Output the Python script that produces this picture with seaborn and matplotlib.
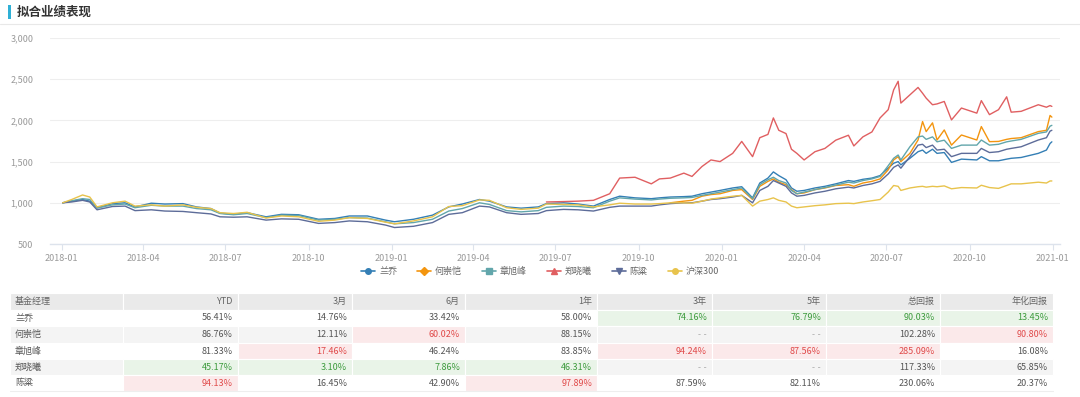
import pandas as pd
import numpy as np
import matplotlib
matplotlib.use("Agg")
import matplotlib.pyplot as plt
import matplotlib.dates as mdates
from matplotlib.lines import Line2D
from matplotlib.patches import Rectangle
import seaborn as sns

# ---- data ----
dates = [
    "2018-01-02", "2018-01-12", "2018-01-24", "2018-02-01", "2018-02-09", "2018-02-26",
    "2018-03-12", "2018-03-23", "2018-04-10", "2018-04-25", "2018-05-15", "2018-05-30",
    "2018-06-15", "2018-06-25", "2018-07-10", "2018-07-25", "2018-08-15", "2018-09-01",
    "2018-09-20", "2018-10-12", "2018-10-30", "2018-11-15", "2018-12-05", "2018-12-25",
    "2019-01-04", "2019-01-25", "2019-02-15", "2019-03-05", "2019-03-20", "2019-04-08",
    "2019-04-19", "2019-05-08", "2019-05-24", "2019-06-12", "2019-06-21", "2019-07-10",
    "2019-07-26", "2019-08-12", "2019-08-30", "2019-09-10", "2019-09-27", "2019-10-15",
    "2019-10-24", "2019-11-05", "2019-11-20", "2019-11-29", "2019-12-10", "2019-12-20",
    "2019-12-30", "2020-01-13", "2020-01-23", "2020-02-04", "2020-02-12", "2020-02-21",
    "2020-02-27", "2020-03-04", "2020-03-12", "2020-03-18", "2020-03-24", "2020-04-01",
    "2020-04-13", "2020-04-24", "2020-05-06", "2020-05-20", "2020-05-26", "2020-06-05",
    "2020-06-15", "2020-06-24", "2020-07-03", "2020-07-09", "2020-07-14", "2020-07-17",
    "2020-07-27", "2020-08-05", "2020-08-10", "2020-08-14", "2020-08-21", "2020-08-26",
    "2020-09-03", "2020-09-11", "2020-09-22", "2020-10-09", "2020-10-14", "2020-10-23",
    "2020-11-02", "2020-11-11", "2020-11-16", "2020-11-27", "2020-12-16", "2020-12-25",
    "2020-12-29", "2020-12-31",
]
nan = np.nan
lan_qiao = [
    1000, 1020, 1040, 1020, 940, 990, 1000, 950, 995, 985, 990, 950,
    930, 875, 860, 880, 830, 860, 855, 800, 810, 840, 840, 790,
    770, 800, 850, 950, 985, 1040, 1020, 950, 935, 950, 990, 1000,
    985, 960, 1040, 1080, 1060, 1050, 1060, 1070, 1075, 1080, 1110, 1130,
    1150, 1180, 1195, 1060, 1240, 1300, 1375, 1330, 1280, 1180, 1140, 1150,
    1180, 1200, 1230, 1270, 1260, 1285, 1300, 1330, 1420, 1480, 1500, 1460,
    1540, 1620, 1640, 1600, 1650, 1600, 1610, 1490, 1530, 1520, 1560, 1510,
    1510, 1530, 1540, 1550, 1600, 1640, 1720, 1740,
]
he_chongkai = [nan] * 43 + [
    1000, 1020, 1030, 1080, 1100,
    1110, 1150, 1160, 1040, 1200, 1260, 1290, 1250, 1220, 1160, 1110, 1120,
    1160, 1180, 1210, 1220, 1200, 1240, 1260, 1290, 1400, 1520, 1560, 1500,
    1600, 1762, 1986, 1864, 1970, 1762, 1884, 1700, 1823, 1762, 1925, 1742,
    1745, 1770, 1780, 1790, 1864, 1880, 2060, 2040,
]
zhang_xufeng = [
    1000, 1025, 1050, 1040, 935, 975, 985, 940, 970, 960, 960, 930,
    915, 870, 855, 870, 820, 850, 845, 790, 800, 820, 815, 770,
    745, 760, 800, 900, 930, 1000, 980, 905, 890, 905, 945, 960,
    955, 940, 1020, 1060, 1045, 1035, 1045, 1055, 1060, 1065, 1090, 1110,
    1130, 1160, 1180, 1050, 1220, 1280, 1310, 1270, 1240, 1150, 1110, 1130,
    1160, 1185, 1215, 1250, 1240, 1270, 1290, 1320, 1450, 1540, 1580, 1520,
    1680, 1800, 1810, 1770, 1800, 1740, 1760, 1660, 1700, 1700, 1762, 1700,
    1710, 1740, 1750, 1770, 1843, 1860, 1930, 1940,
]
zheng_xiaoxi = [nan] * 34 + [
    1010, 1015,
    1020, 1030, 1110, 1300, 1310, 1230, 1290, 1300, 1360, 1320, 1440, 1520,
    1500, 1600, 1745, 1560, 1790, 1830, 2030, 1880, 1840, 1650, 1600, 1520,
    1620, 1660, 1760, 1820, 1690, 1800, 1860, 2030, 2130, 2370, 2475, 2210,
    2310, 2400, 2330, 2270, 2190, 2200, 2230, 2006, 2150, 2088, 2240, 2070,
    2130, 2286, 2100, 2110, 2190, 2160, 2180, 2170,
]
chen_liang = [
    1000, 1010, 1030, 1010, 915, 955, 960, 905, 915, 900, 895, 880,
    865, 830, 825, 830, 790, 805, 800, 750, 760, 780, 770, 730,
    700, 715, 760, 860, 880, 960, 950, 880, 860, 870, 905, 920,
    915, 900, 945, 960, 960, 960, 975, 990, 1000, 1000, 1020, 1040,
    1050, 1070, 1090, 1000, 1150, 1200, 1270, 1240, 1200, 1120, 1080, 1090,
    1120, 1140, 1170, 1190, 1180, 1210, 1230, 1260, 1350, 1430, 1460, 1420,
    1560, 1700, 1710, 1670, 1700, 1640, 1650, 1560, 1600, 1600, 1660, 1610,
    1620, 1650, 1660, 1680, 1762, 1790, 1870, 1880,
]
hs300 = [
    1000, 1040, 1095, 1070, 950, 1000, 1020, 960, 975, 960, 975, 945,
    930, 880, 870, 885, 815, 840, 830, 775, 790, 820, 810, 765,
    745, 780, 830, 955, 965, 1035, 1030, 940, 920, 935, 985, 980,
    975, 950, 975, 995, 985, 985, 990, 1000, 1000, 995, 1020, 1045,
    1060, 1080, 1090, 960, 1020, 1040, 1060, 1030, 1010, 960, 940, 950,
    965, 975, 990, 995, 990, 1010, 1025, 1040, 1130, 1210, 1200, 1150,
    1180, 1195, 1200, 1190, 1200, 1195, 1205, 1170, 1185, 1180, 1213, 1185,
    1175, 1210, 1230, 1230, 1250, 1240, 1265, 1265,
]

series_names = ["兰乔", "何崇恺", "章旭峰", "郑晓曦", "陈粱", "沪深300"]
series_colors = ["#347fb5", "#f3950f", "#62a6ab", "#e05f61", "#5d6c99", "#e8c34c"]
series_markers = ["o", "D", "s", "^", "v", "o"]

y_ticks = [500, 1000, 1500, 2000, 2500, 3000]
x_ticks = ["2018-01-01", "2018-04-01", "2018-07-01", "2018-10-01", "2019-01-01",
           "2019-04-01", "2019-07-01", "2019-10-01", "2020-01-01", "2020-04-01",
           "2020-07-01", "2020-10-01", "2021-01-01"]

table_cols = ["基金经理", "YTD", "3月", "6月", "1年", "3年", "5年", "总回报", "年化回报"]
table_rows = [
    ["兰乔", "56.41%", "14.76%", "33.42%", "58.00%", "74.16%", "76.79%", "90.03%", "13.45%"],
    ["何崇恺", "86.76%", "12.11%", "60.02%", "88.15%", "--", "--", "102.28%", "90.80%"],
    ["章旭峰", "81.33%", "17.46%", "46.24%", "83.85%", "94.24%", "87.56%", "285.09%", "16.08%"],
    ["郑晓曦", "45.17%", "3.10%", "7.86%", "46.31%", "--", "--", "117.33%", "65.85%"],
    ["陈粱", "94.13%", "16.45%", "42.90%", "97.89%", "87.59%", "82.11%", "230.06%", "20.37%"],
]
# g = best (green), r = worst (red)
table_marks = [
    "....gggg",
    "..r....r",
    ".r..rrr.",
    "gggg....",
    "r..r....",
]

# ---- build long data ----
values = [lan_qiao, he_chongkai, zhang_xufeng, zheng_xiaoxi, chen_liang, hs300]
frames = []
for name, vals in zip(series_names, values):
    frames.append(pd.DataFrame({"date": pd.to_datetime(dates), "value": vals, "name": name}))
df = pd.concat(frames).dropna()

sns.set_theme(style="white")
plt.rcParams["font.family"] = ["Noto Sans CJK SC", "DejaVu Sans"]

W, H = 1080, 397
fig = plt.figure(figsize=(W / 100, H / 100), dpi=100)

# chart axes
ax = fig.add_axes([50 / W, 1 - 244 / H, (1060 - 50) / W, (244 - 38) / H])
sns.lineplot(data=df, x="date", y="value", hue="name", hue_order=series_names,
             palette=dict(zip(series_names, series_colors)), linewidth=1.0,
             legend=False, ax=ax, estimator=None, sort=True)
ax.set_xlim(pd.Timestamp("2017-12-19"), pd.Timestamp("2021-01-09"))
ax.set_ylim(500, 3000)
ax.set_yticks(y_ticks)
ax.set_yticklabels([f"{v:,}" for v in y_ticks])
ax.set_xticks(pd.to_datetime(x_ticks))
ax.xaxis.set_major_formatter(mdates.DateFormatter("%Y-%m"))
ax.set_xlabel("")
ax.set_ylabel("")
ax.grid(axis="y", color="#eeeeee", linewidth=0.8)
ax.set_axisbelow(True)
for side in ["top", "right", "left"]:
    ax.spines[side].set_visible(False)
ax.spines["bottom"].set_color("#dde3ec")
ax.spines["bottom"].set_linewidth(1.0)
ax.tick_params(axis="y", length=0, labelsize=6.5, colors="#999999", pad=12)
ax.tick_params(axis="x", length=4, width=0.8, color="#dde3ec", labelsize=6.5,
               labelcolor="#999999", pad=3, direction="out", bottom=True)

# legend
handles = [Line2D([0], [0], color=c, marker=m, markersize=4, linewidth=1.2)
           for c, m in zip(series_colors, series_markers)]
fig.legend(handles, series_names, loc="center", bbox_to_anchor=(540 / W, 1 - 271 / H),
           ncol=6, frameon=False, fontsize=6.5, labelcolor="#666666",
           handlelength=1.6, handletextpad=0.4, columnspacing=2.2)

# overlay for title and table (pixel coordinates)
ov = fig.add_axes([0, 0, 1, 1], zorder=-1)
ov.set_xlim(0, W)
ov.set_ylim(H, 0)
ov.axis("off")
ov.add_patch(Rectangle((8, 5), 3, 14, color="#2fb0d6", lw=0))
ov.text(17, 12, "拟合业绩表现", fontsize=9, fontweight="bold", color="#333333", va="center")
ov.plot([0, W], [24, 24], color="#e8e8e8", lw=0.8)

col_edges = [10, 123, 238, 352, 465, 597, 712, 826, 940, 1053]
row_edges = [293, 310, 326, 343, 359, 375, 391]
green_bg, green_fg = "#e9f4e8", "#3d9b3d"
red_bg, red_fg = "#fbe9ea", "#e04a4a"

for r in range(len(row_edges) - 1):
    y0, y1 = row_edges[r], row_edges[r + 1]
    if r == 0:
        cells = table_cols
        base = "#eaeaea"
    else:
        cells = table_rows[r - 1]
        base = "#ffffff" if r % 2 == 1 else "#f4f4f4"
    for c in range(len(col_edges) - 1):
        x0, x1 = col_edges[c], col_edges[c + 1]
        bg, fg = base, ("#666666" if r == 0 else "#555555")
        if r > 0 and c > 0:
            mk = table_marks[r - 1][c - 1]
            if mk == "g":
                bg, fg = green_bg, green_fg
            elif mk == "r":
                bg, fg = red_bg, red_fg
        ov.add_patch(Rectangle((x0, y0), x1 - x0, y1 - y0, facecolor=bg,
                               edgecolor="#ffffff", lw=0.8))
        txt = cells[c]
        if txt == "--":
            ov.text(x1 - 5, (y0 + y1) / 2, "- -", fontsize=6, color="#aaaaaa",
                    va="center", ha="right", family="DejaVu Sans")
        elif c == 0:
            ov.text(x0 + 5, (y0 + y1) / 2, txt, fontsize=6.5, color=fg,
                    va="center", ha="left")
        else:
            ov.text(x1 - 5, (y0 + y1) / 2, txt, fontsize=6.5, color=fg,
                    va="center", ha="right")
ov.plot([col_edges[0], col_edges[-1]], [row_edges[-1], row_edges[-1]], color="#eeeeee", lw=0.8)

fig.savefig("out.png", dpi=100)
